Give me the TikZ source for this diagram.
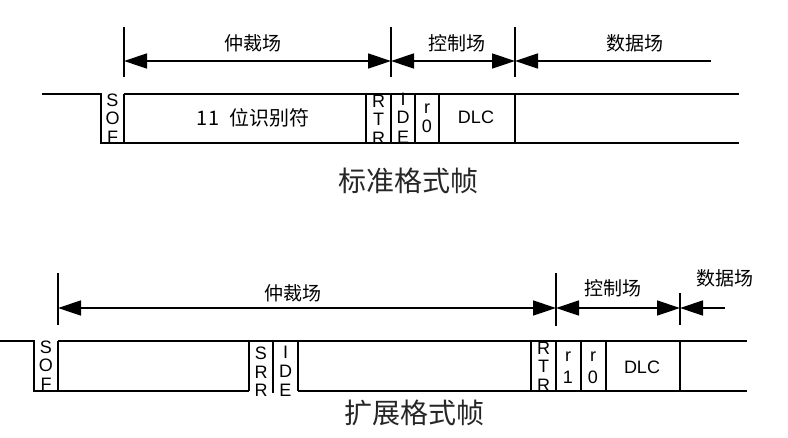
\documentclass[tikz,border=0pt]{standalone}
\usepackage{fontspec}
\setmainfont{Liberation Sans}
\newfontfamily\cjk{Noto Sans CJK SC}
\usetikzlibrary{arrows.meta}
\tikzset{
  sig/.style={line width=2.4pt, line join=miter},
  tickline/.style={line width=2pt},
  dim/.style={line width=1.4pt},
  both/.style={dim, {Triangle[length=23pt,width=15pt]}-{Triangle[length=23pt,width=15pt]}},
  lefthead/.style={dim, {Triangle[length=23pt,width=15pt]}-},
  letter/.style={inner sep=0pt, font=\fontsize{18}{18}\selectfont},
  dlc/.style={inner sep=0pt, font=\fontsize{18}{18}\selectfont},
  field/.style={inner sep=0pt, font=\cjk\fontsize{19}{19}\selectfont},
  idtext/.style={inner sep=0pt, font=\cjk\fontsize{20}{20}\selectfont},
  caption/.style={inner sep=0pt, font=\cjk\fontsize{28}{28}\selectfont, text=black!85},
}
\begin{document}
\begin{tikzpicture}[x=1pt,y=-1pt]
\useasboundingbox (0,0) rectangle (788,437);
% ---------- standard frame ----------
\draw[sig] (42,94) -- (101,94) -- (101,143) -- (739,143);
\draw[sig] (124,94) -- (739,94);
\foreach \x in {124,366,391,415,439,515} \draw[sig] (\x,94) -- (\x,143);
% ticks
\coordinate (a1) at (124,61); \coordinate (a2) at (391,61);
\coordinate (a3) at (515,61); \coordinate (a4) at (711,61);
\foreach \x in {124,391,515} \draw[tickline] (\x,27) -- (\x,77);
\draw[both] (a1) -- (a2);
\draw[both] (a2) -- (a3);
\draw[lefthead] (a3) -- (a4);
\node[field] (t1) at (253,43) {仲裁场};
\node[field] (t2) at (457,43) {控制场};
\node[field] (t3) at (635,43) {数据场};
% letters
\node[letter] (s1) at (112.5,100) {S};
\node[letter] (s2) at (112.5,118) {O};
\node[letter] (s3) at (112.5,137) {F};
\node[idtext] (id) at (253,118) {11\enspace 位识别符};
\node[letter] (r1) at (378.5,101) {R};
\node[letter] (r2) at (378.5,119) {T};
\node[letter] (r3) at (378.5,138) {R};
\node[letter] (i1) at (403,99) {I};
\node[letter] (i2) at (403,117) {D};
\node[letter] (i3) at (403,137) {E};
\node[letter] (z1) at (427,109) {r};
\node[letter] (z2) at (427,126) {0};
\node[dlc] (dlc1) at (476,117) {DLC};
\node[caption] (cap1) at (408,181) {标准格式帧};
% ---------- extended frame ----------
\draw[sig] (0,341) -- (34,341) -- (34,391) -- (249,391);
\draw[sig] (58,341) -- (747,341);
\draw[sig] (298,391) -- (747,391);
\foreach \x in {58,249,298,531,556,581,606,680} \draw[sig] (\x,341) -- (\x,391);
\draw[sig] (273,341) -- (273,393);
\coordinate (b1) at (58,308); \coordinate (b2) at (556,308);
\coordinate (b3) at (680,308); \coordinate (b4) at (725,308);
\draw[tickline] (58,273) -- (58,325);
\draw[tickline] (556,273) -- (556,326);
\draw[tickline] (680,293) -- (680,325);
\draw[both] (b1) -- (b2);
\draw[both] (b2) -- (b3);
\draw[lefthead] (b3) -- (b4);
\node[field] (u1) at (293,293) {仲裁场};
\node[field] (u2) at (613,288) {控制场};
\node[field] (u3) at (725,278) {数据场};
\node[letter] (e1) at (46,347) {S};
\node[letter] (e2) at (46,365) {O};
\node[letter] (e3) at (46,384) {F};
\node[letter] (e4) at (261,353) {S};
\node[letter] (e5) at (261,372) {R};
\node[letter] (e6) at (261,390) {R};
\node[letter] (e7) at (285.5,352) {I};
\node[letter] (e8) at (285.5,371) {D};
\node[letter] (e9) at (285.5,390) {E};
\node[letter] (e10) at (543.5,348) {R};
\node[letter] (e11) at (543.5,366) {T};
\node[letter] (e12) at (543.5,385) {R};
\node[letter] (e13) at (568,357) {r};
\node[letter] (e14) at (568,377) {1};
\node[letter] (e15) at (593,357) {r};
\node[letter] (e16) at (593,377) {0};
\node[dlc] (dlc2) at (642,367) {DLC};
\node[caption] (cap2) at (414,413) {扩展格式帧};
\end{tikzpicture}
\end{document}
